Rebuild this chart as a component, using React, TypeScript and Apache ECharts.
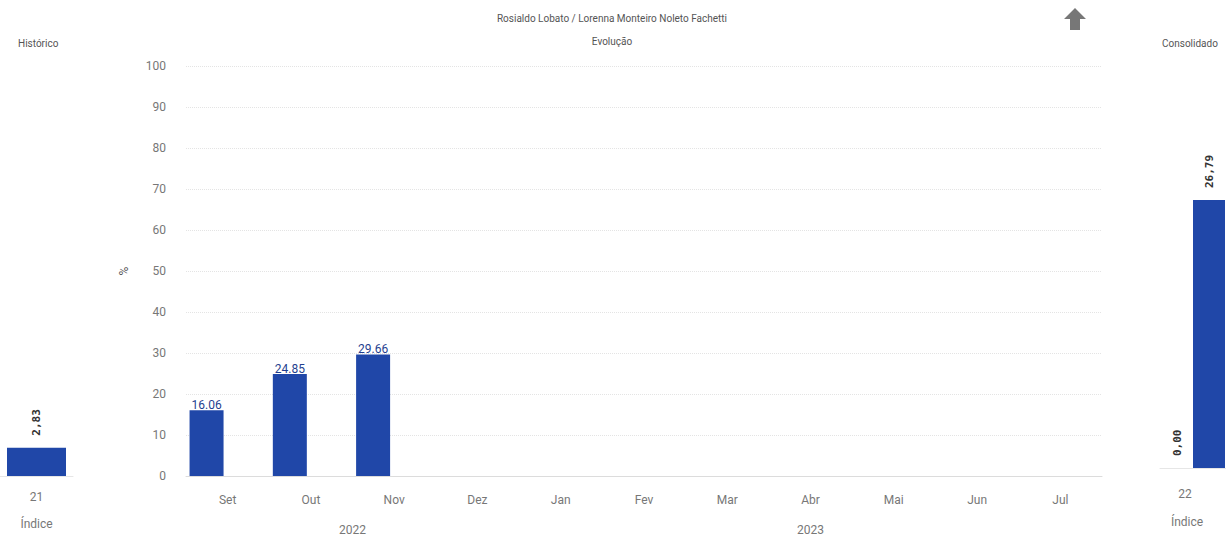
import React, { useEffect, useRef } from "react";
import * as echarts from "echarts";

const months = ["Set", "Out", "Nov", "Dez", "Jan", "Fev", "Mar", "Abr", "Mai", "Jun", "Jul"];
const monthYears = ["2022", "2022", "2022", "2022", "2023", "2023", "2023", "2023", "2023", "2023", "2023"];
const evolucao: (number | null)[] = [16.06, 24.85, 29.66, null, null, null, null, null, null, null, null];
const evolucaoMeta: (number | null)[] = [null, null, null, null, null, null, null, null, null, null, null];
const yTicks = { min: 0, max: 100, interval: 10 };

const historicoCats = ["21"];
const historicoValues = [2.83];
const consolidadoCats = ["22"];
const consolidadoA = [0.0];
const consolidadoB = [26.79];

const BLUE = "#2047a8";
const GREY = "#777";
const FONT = "Roboto, 'Open Sans', sans-serif";

const commaFmt = (p: any) => Number(p.value).toFixed(2).replace(".", ",");

export default function App() {
  const ref = useRef<HTMLDivElement>(null);
  useEffect(() => {
    if (!ref.current) return;
    const chart = echarts.init(ref.current, null, { renderer: "svg" });
    const sideLabel = {
      show: true,
      position: "top" as const,
      rotate: 90,
      align: "left" as const,
      verticalAlign: "middle" as const,
      distance: 12,
      fontSize: 11,
      fontWeight: "bold" as const,
      color: "#333",
      fontFamily: "'DejaVu Sans Mono', monospace",
      formatter: commaFmt,
    };
    const option: any = {
      animation: false,
      textStyle: { fontFamily: FONT },
      title: [
        {
          text: "Rosialdo Lobato / Lorenna Monteiro Noleto Fachetti",
          left: 607, top: 8, textAlign: "center",
          textStyle: { fontSize: 10, fontWeight: "normal", color: "#555", fontFamily: FONT },
        },
        {
          text: "Evolução",
          left: 607, top: 31, textAlign: "center",
          textStyle: { fontSize: 10, fontWeight: "normal", color: "#555", fontFamily: FONT },
        },
        {
          text: "Histórico", left: 13, top: 33,
          textStyle: { fontSize: 10, fontWeight: "normal", color: "#555", fontFamily: FONT },
        },
        {
          text: "Consolidado", left: 1157, top: 33,
          textStyle: { fontSize: 10, fontWeight: "normal", color: "#555", fontFamily: FONT },
        },
      ],
      grid: [
        { left: 0, width: 73, top: 176, bottom: 61 },
        { left: 186, right: 124, top: 66, bottom: 61 },
        { left: 1160, width: 80, top: 168, bottom: 69 },
      ],
      xAxis: [
        {
          gridIndex: 0, type: "category", data: historicoCats,
          axisLine: { lineStyle: { color: "#e6e6e6" } }, axisTick: { show: false },
          axisLabel: { color: GREY, fontSize: 12, margin: 15 },
          name: "Índice", nameLocation: "middle", nameGap: 42,
          nameTextStyle: { color: GREY, fontSize: 12 },
        },
        {
          gridIndex: 1, type: "category", data: months,
          axisLine: { lineStyle: { color: "#dcdcdc" } }, axisTick: { show: false },
          axisLabel: { color: GREY, fontSize: 12, margin: 18 },
        },
        {
          gridIndex: 2, type: "category", data: consolidadoCats,
          axisLine: { lineStyle: { color: "#e6e6e6" } }, axisTick: { show: false },
          axisLabel: { color: GREY, fontSize: 12, margin: 20, padding: [0, 16, 0, 0] },
          name: "Índice", nameLocation: "middle", nameGap: 48,
          nameTextStyle: { color: GREY, fontSize: 12, padding: [0, 12, 0, 0] },
        },
      ],
      yAxis: [
        { gridIndex: 0, type: "value", min: 0, max: 30, show: false },
        {
          gridIndex: 1, type: "value", min: yTicks.min, max: yTicks.max, interval: yTicks.interval,
          axisLine: { show: false }, axisTick: { show: false },
          axisLabel: { color: GREY, fontSize: 12, margin: 20 },
          splitLine: { lineStyle: { color: "#e4e4e4", type: "dotted" } },
          name: "%", nameLocation: "middle", nameGap: 56,
          nameTextStyle: { color: "#555", fontSize: 12 },
        },
        { gridIndex: 2, type: "value", min: 0, max: 30, show: false },
      ],
      series: [
        {
          type: "bar", xAxisIndex: 0, yAxisIndex: 0, data: historicoValues,
          barWidth: 59, itemStyle: { color: BLUE }, label: sideLabel,
        },
        {
          type: "bar", xAxisIndex: 1, yAxisIndex: 1, data: evolucao,
          barWidth: 34, barGap: "24%", itemStyle: { color: BLUE },
          label: {
            show: true, position: "top", distance: -1, color: "#1f3f8f", fontSize: 12,
            formatter: (p: any) => Number(p.value).toFixed(2),
          },
        },
        {
          type: "bar", xAxisIndex: 1, yAxisIndex: 1, data: evolucaoMeta,
          barWidth: 34, barGap: "24%", itemStyle: { color: "#8aa0d0" },
        },
        {
          type: "bar", xAxisIndex: 2, yAxisIndex: 2, data: consolidadoA,
          barWidth: 32, barGap: 0, itemStyle: { color: BLUE }, label: sideLabel,
        },
        {
          type: "bar", xAxisIndex: 2, yAxisIndex: 2, data: consolidadoB,
          barWidth: 32, barGap: 0, itemStyle: { color: BLUE }, label: sideLabel,
        },
      ],
    };
    chart.setOption(option);

    // Year labels, centred under each year's months
    const groups: { year: string; first: number; last: number }[] = [];
    monthYears.forEach((y, i) => {
      const g = groups[groups.length - 1];
      if (g && g.year === y) g.last = i;
      else groups.push({ year: y, first: i, last: i });
    });
    const graphics: any[] = groups.map((g) => {
      const x1 = chart.convertToPixel({ xAxisIndex: 1 }, months[g.first]) as number;
      const x2 = chart.convertToPixel({ xAxisIndex: 1 }, months[g.last]) as number;
      return {
        type: "text",
        x: (x1 + x2) / 2,
        y: 530,
        style: {
          text: g.year, fill: GREY, fontSize: 12, fontFamily: FONT,
          align: "center", verticalAlign: "middle",
        },
      };
    });
    graphics.push({
      type: "polygon",
      shape: {
        points: [
          [1075, 8], [1086, 19], [1080, 19], [1080, 30], [1070, 30], [1070, 19], [1064, 19],
        ],
      },
      style: { fill: "#777" },
    });
    chart.setOption({ graphic: graphics });

    return () => chart.dispose();
  }, []);
  return (
    <div
      ref={ref}
      style={{ position: "fixed", left: 0, top: 0, width: 1226, height: 537, background: "#fff" }}
    />
  );
}
